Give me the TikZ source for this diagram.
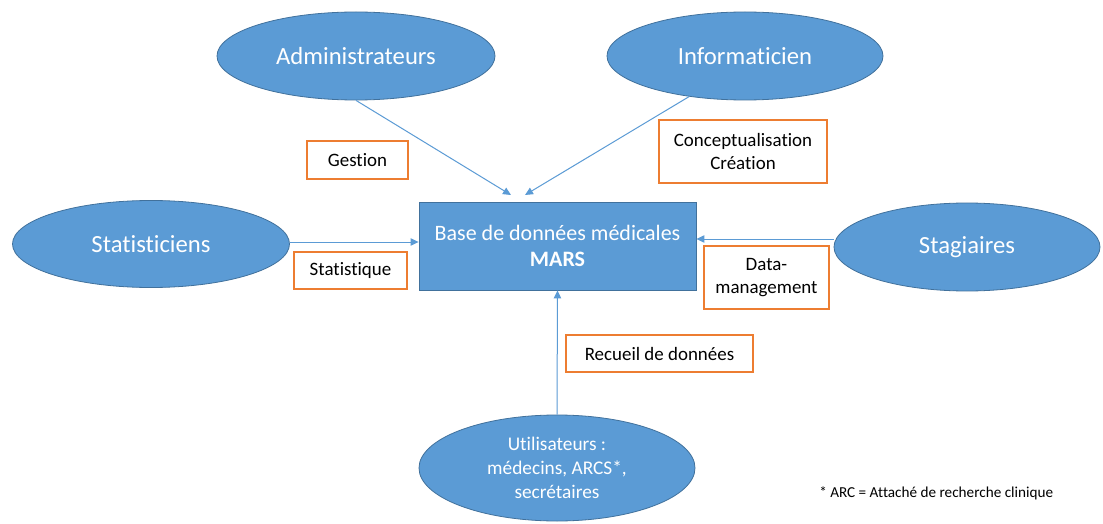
\documentclass[tikz,border=0pt]{standalone}
\usepackage{fontspec}
\setmainfont{Carlito}[Ligatures=NoCommon]
\usetikzlibrary{shapes.geometric,arrows.meta}
\definecolor{bfill}{HTML}{5B9BD5}
\definecolor{bdraw}{HTML}{41719C}
\definecolor{obox}{HTML}{ED7D31}
\begin{document}
\begin{tikzpicture}[x=0.75pt,y=-0.75pt,
  actor/.style={ellipse,draw=bdraw,fill=bfill,line width=0.6pt,inner sep=0pt,text=white,font=\fontsize{18.5}{22}\selectfont,align=center},
  dbbox/.style={rectangle,draw=bdraw,fill=bfill,line width=0.6pt,inner sep=0pt,text=white,font=\fontsize{16.5}{20}\selectfont,align=center,minimum width=207.75pt,minimum height=66pt},
  lbl/.style={rectangle,draw=obox,line width=0.8pt,fill=white,inner sep=0pt,text=black,font=\fontsize{14.2}{17}\selectfont,align=center},
  arr/.style={draw=bfill,line width=0.75pt,-{Triangle[length=6pt,width=5.5pt]}}]
\useasboundingbox (0,0) rectangle (1103,524);
\fill[white] (0,0) rectangle (1103,524);
% actors
\node[actor,minimum width=208.5pt,minimum height=66pt] (adm) at (356,56) {Administrateurs};
\node[actor,minimum width=207pt,minimum height=66pt] (inf) at (745,56) {Informaticien};
\node[actor,minimum width=207.75pt,minimum height=65.25pt] (sta) at (151,244) {Statisticiens};
\node[actor,minimum width=199.5pt,minimum height=66pt] (stg) at (967,247) {Stagiaires};
\node[actor,minimum width=207pt,minimum height=79.5pt,font=\fontsize{14.5}{18}\selectfont] (uti) at (557,468) {Utilisateurs :\\médecins, ARCS*,\\secrétaires};
% database
\node[dbbox] (db) at (557.5,246) {Base de données médicales\\\textbf{MARS}};
% labels
\node[lbl,minimum width=75.75pt,minimum height=28.5pt] (ges) at (357.5,160) {Gestion};
\node[lbl,minimum width=126pt,minimum height=47.25pt] (con) at (743,151.5) {Conceptualisation\\Création};
\node[lbl,minimum width=84.75pt,minimum height=27.75pt] (stq) at (350.5,270.5) {Statistique};
\node[lbl,minimum width=93.75pt,minimum height=47.25pt] (dat) at (766.5,277.5) {Data-\\management};
\node[lbl,minimum width=140.25pt,minimum height=27.75pt] (rec) at (659.5,353.5) {Recueil de données};
% footnote
\node[font=\fontsize{11.4}{14}\selectfont,anchor=west,inner sep=0pt] (fn) at (819,493) {* ARC = Attaché de recherche clinique};
% arrow ends
\coordinate (a1) at (511,195);
\coordinate (a2) at (525,195);
% connectors
\draw[arr] (adm.south) -- (a1);
\draw[arr] (inf.216) -- (a2);
\draw[arr] ([yshift=1.5pt]sta.east) -- ([yshift=1.5pt]sta.east -| db.west);
\draw[arr] ([yshift=6pt]stg.west) -- ([yshift=6pt]stg.west -| db.east);
\draw[arr] (uti.north) -- (db.south);
\end{tikzpicture}
\end{document}
